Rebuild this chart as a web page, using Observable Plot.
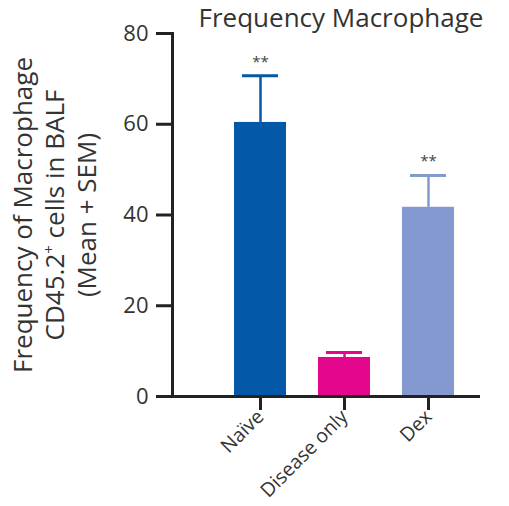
<!DOCTYPE html>
<html>
<head>
<meta charset="utf-8">
<script src="https://cdn.jsdelivr.net/npm/d3@7"></script>
<script src="https://cdn.jsdelivr.net/npm/@observablehq/plot@0.6"></script>
<style>
  html, body { margin: 0; padding: 0; background: #fff; }
  #wrap { position: relative; width: 509px; height: 506px; font-family: "Open Sans", sans-serif; color: #333; }
  #wrap svg { position: absolute; left: 0; top: 0; }
  #title { position: absolute; top: 1px; left: 172px; width: 338px; text-align: center; font-size: 26px; line-height: 32px; white-space: nowrap; }
  #ylab { position: absolute; left: 54px; top: 215px; width: 400px; transform: translate(-50%, -50%) rotate(-90deg); text-align: center; font-size: 26px; line-height: 32px; white-space: nowrap; }
  #ylab sup { font-size: 15px; vertical-align: 10px; line-height: 0; }
</style>
</head>
<body>
<div id="wrap">
  <div id="title">Frequency Macrophage</div>
  <div id="ylab">Frequency of Macrophage<br>CD45.2<sup>+</sup> cells in BALF<br>(Mean + SEM)</div>
</div>
<script>
const groups = ["Naïve", "Disease only", "Dex"];
const means = [60.4, 8.6, 41.7];
const sems = [10.3, 1.1, 7.0];
const colors = ["#0358a7", "#e4078d", "#8399cf"];
const stars = ["**", "", "**"];
const yTicks = [0, 20, 40, 60, 80];

const data = groups.map((g, i) => ({group: g, mean: means[i], upper: means[i] + sems[i], color: colors[i], star: stars[i]}));

const chart = Plot.plot({
  width: 509,
  height: 506,
  marginLeft: 172,
  marginRight: 29,
  marginTop: 33,
  marginBottom: 110,
  style: {fontFamily: "Open Sans, sans-serif", color: "#333", background: "transparent"},
  x: {domain: groups, paddingInner: 0.376, paddingOuter: 0.5, align: 0.706, label: null},
  y: {domain: [0, 80], label: null},
  marks: [
    Plot.barY(data, {x: "group", y: "mean", fill: "color"}),
    Plot.ruleX(data, {x: "group", y1: "mean", y2: "upper", stroke: "color", strokeWidth: 2.5}),
    Plot.tickY(data, {x: "group", y: "upper", stroke: "color", strokeWidth: 3, insetLeft: 8, insetRight: 8}),
    Plot.text(data, {x: "group", y: "upper", text: "star", dy: -14, fontSize: 15, fill: "#444"}),
    Plot.axisY({ticks: yTicks, tickSize: 16, tickPadding: 8, fontSize: 22, strokeWidth: 3, stroke: "#222", fill: "#333", label: null}),
    Plot.axisX({tickSize: 14, tickPadding: 3, tickRotate: -45, fontSize: 19.5, strokeWidth: 3, stroke: "#222", fill: "#333", label: null}),
    Plot.frame({anchor: "left", stroke: "#222", strokeWidth: 3}),
    Plot.ruleY([0], {stroke: "#222", strokeWidth: 3})
  ]
});
document.getElementById("wrap").prepend(chart);
</script>
</body>
</html>
